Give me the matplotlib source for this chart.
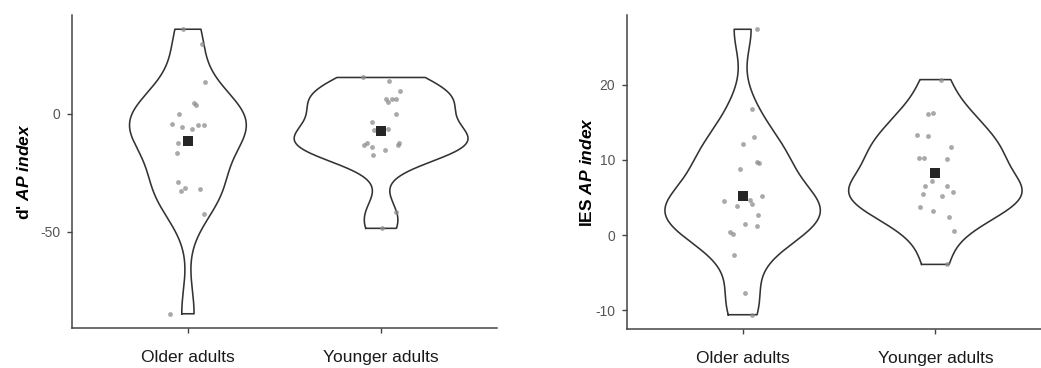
import numpy as np
import matplotlib
matplotlib.use("Agg")
import matplotlib.pyplot as plt

plt.rcParams['font.family'] = ['Liberation Sans', 'DejaVu Sans']
plt.rcParams['mathtext.fontset'] = 'custom'
plt.rcParams['mathtext.rm'] = 'Liberation Sans:bold'
plt.rcParams['mathtext.it'] = 'Liberation Sans:italic:bold'
plt.rcParams['mathtext.bf'] = 'Liberation Sans:bold'

groups = ['Older adults', 'Younger adults']

# d' AP index (values and horizontal jitter)
dprime_older = [36.0, 29.7, 13.6, 4.7, 3.8, 0.0, -4.4, -5.4, -6.5, -4.5, -4.5,
                -12.3, -16.6, -28.7, -32.9, -31.5, -32.0, -42.5, -84.9]
dprime_older_jit = [-0.027, 0.074, 0.091, 0.031, 0.040, -0.048, -0.082, -0.029, 0.022,
                    0.050, 0.081, -0.052, -0.055, -0.053, -0.038, -0.017, 0.064, 0.081, -0.095]
dprime_younger = [15.5, 13.8, 9.9, 6.5, 5.1, 6.5, 6.5, 0.0, -3.5, -6.9, -6.5,
                  -12.3, -13.3, -14.0, -12.3, -13.3, -15.5, -17.5, -41.5, -48.6]
dprime_younger_jit = [-0.093, 0.041, 0.100, 0.024, 0.038, 0.058, 0.076, 0.076, -0.045, -0.038,
                      0.034, -0.074, -0.089, -0.048, 0.095, 0.088, 0.022, -0.041, 0.077, 0.005]

# IES AP index
ies_older = [27.4, 16.8, 13.0, 12.1, 8.8, 9.7, 9.6, 4.6, 3.9, 4.7, 4.1, 5.2, 2.7,
             1.5, 1.2, 0.35, 0.1, -2.6, -7.7, -10.6]
ies_older_jit = [0.073, 0.050, 0.057, 0.0, -0.016, 0.074, 0.085, -0.095, -0.028, 0.040,
                 0.050, 0.102, 0.081, 0.012, 0.076, -0.064, -0.050, -0.047, 0.010, 0.050]
ies_younger = [20.7, 16.1, 16.3, 13.3, 13.2, 11.7, 10.3, 10.3, 10.1, 7.2, 6.5, 6.5,
               5.5, 5.2, 5.7, 3.8, 3.2, 2.4, 0.5, -3.9]
ies_younger_jit = [0.028, -0.038, -0.010, -0.097, -0.038, 0.083, -0.083, -0.060, 0.060, -0.017,
                   -0.052, 0.062, -0.062, 0.035, 0.093, -0.078, -0.012, 0.069, 0.095, 0.060]

dprime_yticks = [-50, 0]
ies_yticks = [-10, 0, 10, 20]


def nrd0(x):
    x = np.asarray(x, float)
    sd = np.std(x, ddof=1)
    iqr = np.subtract(*np.percentile(x, [75, 25]))
    lo = min(sd, iqr / 1.34)
    return 0.9 * lo * len(x) ** -0.2


def trimmed_kde(x, n=512):
    x = np.asarray(x, float)
    bw = nrd0(x)
    grid = np.linspace(x.min(), x.max(), n)
    z = (grid[:, None] - x[None, :]) / bw
    dens = np.exp(-0.5 * z ** 2).sum(axis=1) / (len(x) * bw * np.sqrt(2 * np.pi))
    return grid, dens


def violin_panel(ax, series, jitters, ylabel, yticks, label_x):
    kdes = [trimmed_kde(s) for s in series]
    dmax = max(d.max() for _, d in kdes)
    for i, ((grid, dens), vals, jit) in enumerate(zip(kdes, series, jitters)):
        pos = i + 1
        half = 0.45 * dens / dmax
        xs = np.concatenate([pos - half, (pos + half)[::-1], [pos - half[0]]])
        ys = np.concatenate([grid, grid[::-1], [grid[0]]])
        ax.fill(xs, ys, color='white', zorder=1)
        ax.plot(xs, ys, color='#333333', lw=1.15, zorder=2)
        ax.scatter(pos + np.asarray(jit), vals, s=12, color='#8c8c8c', alpha=0.75,
                   linewidths=0, zorder=3)
        ax.scatter([pos], [np.mean(vals)], s=55, marker='s', color='#262626',
                   linewidths=0, zorder=4)

    allv = np.concatenate([np.asarray(s, float) for s in series])
    rng = allv.max() - allv.min()
    ax.set_ylim(allv.min() - 0.05 * rng, allv.max() + 0.05 * rng)
    ax.set_xlim(0.4, 2.6)
    ax.set_xticks([1, 2])
    ax.set_xticklabels(groups, fontsize=12.5, color='#1a1a1a')
    ax.set_yticks(yticks)
    ax.set_yticklabels([str(t) for t in yticks], fontsize=10, color='#555555')
    ax.tick_params(axis='both', length=3.5, width=1, color='#444444')
    ax.tick_params(axis='x', pad=12)
    ax.tick_params(axis='y', pad=5)
    ax.set_ylabel(ylabel, fontsize=12.5, fontweight='bold')
    ax.yaxis.set_label_coords(label_x, 0.5)
    for side in ['top', 'right']:
        ax.spines[side].set_visible(False)
    for side in ['left', 'bottom']:
        ax.spines[side].set_color('#444444')
        ax.spines[side].set_linewidth(1.1)


fig = plt.figure(figsize=(10.41, 3.68), dpi=100)
ax1 = fig.add_axes([72 / 1041, 1 - 328 / 368, (497 - 72) / 1041, (328 - 15) / 368])
ax2 = fig.add_axes([627 / 1041, 1 - 329 / 368, (1051 - 627) / 1041, (329 - 15) / 368])

violin_panel(ax1, [dprime_older, dprime_younger], [dprime_older_jit, dprime_younger_jit],
             r"d' $\mathit{AP\ index}$", dprime_yticks, -0.095)
violin_panel(ax2, [ies_older, ies_younger], [ies_older_jit, ies_younger_jit],
             r"IES $\mathit{AP\ index}$", ies_yticks, -0.075)

fig.savefig('out.png', dpi=100, facecolor='white')
